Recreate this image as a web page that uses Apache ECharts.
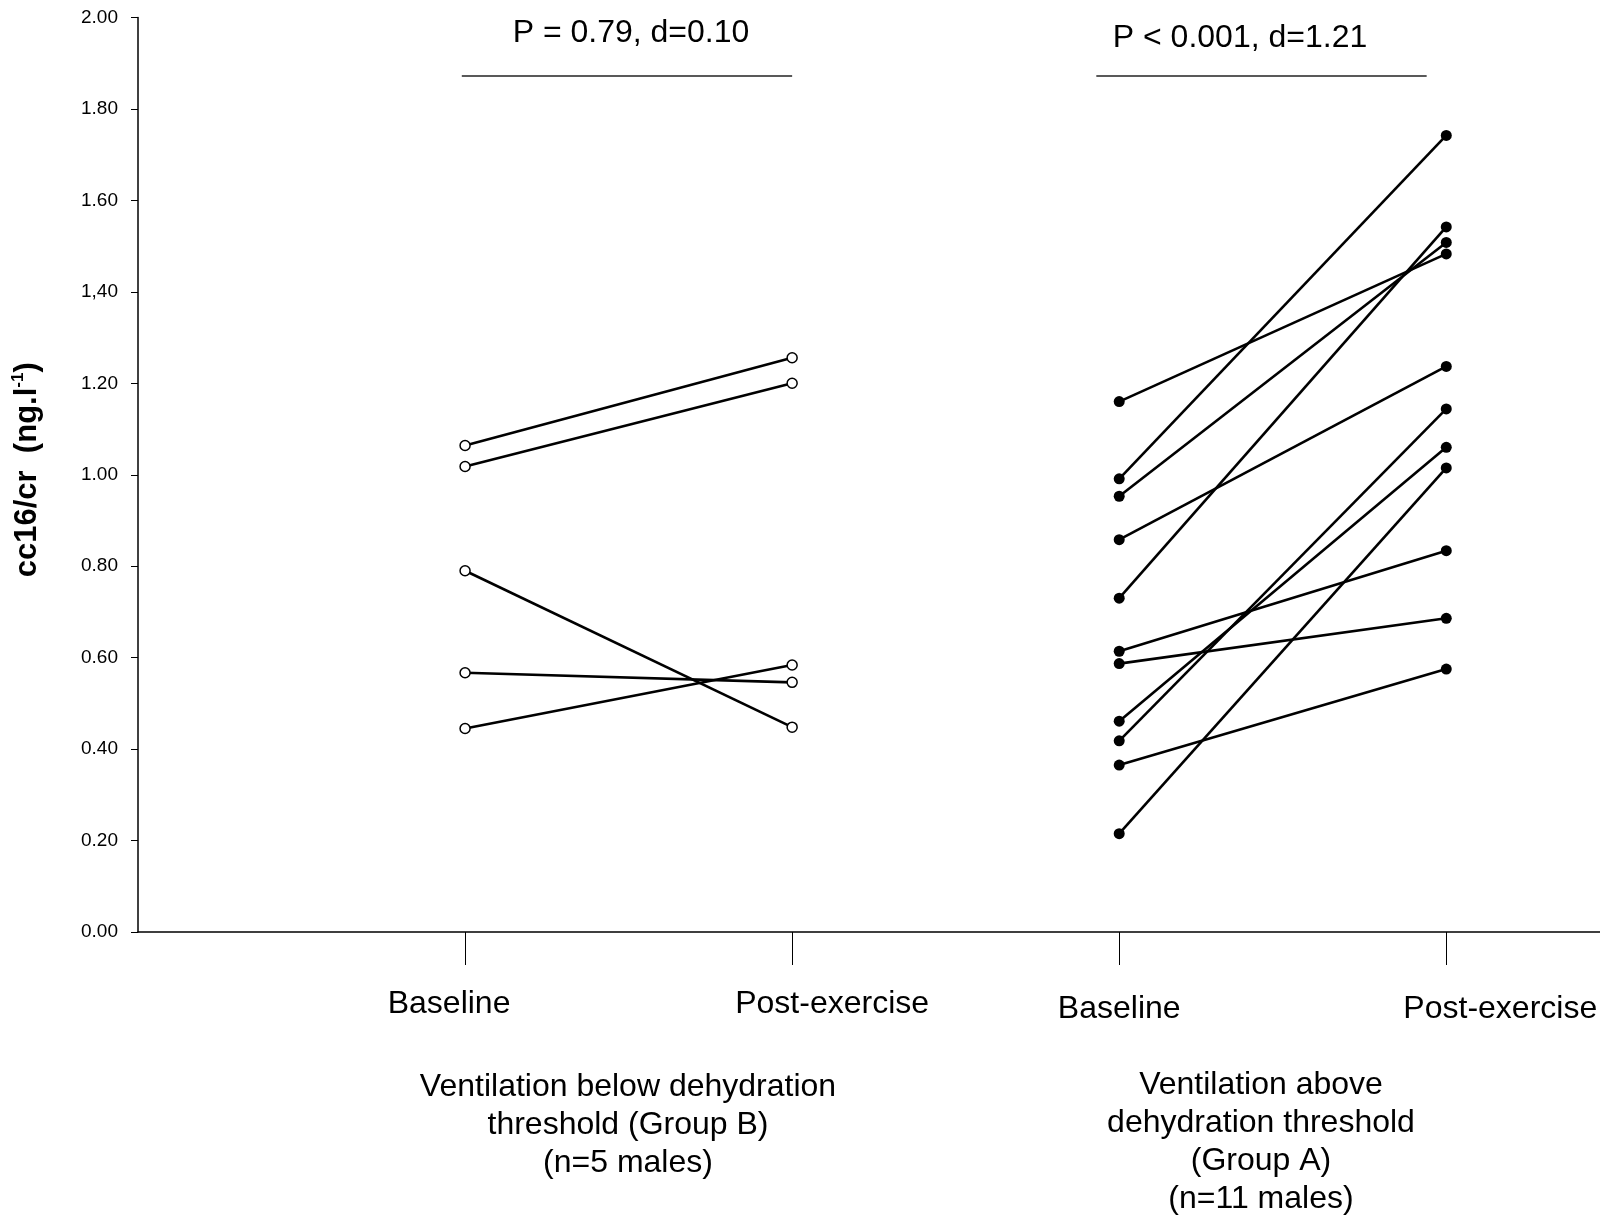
<!DOCTYPE html>
<html>
<head>
<meta charset="utf-8">
<title>cc16/cr</title>
<script src="https://cdn.jsdelivr.net/npm/echarts@6/dist/echarts.min.js"></script>
<style>
  html, body { margin: 0; padding: 0; background: #fff; }
  #chart { width: 1600px; height: 1218px; }
</style>
</head>
<body>
<div id="chart"></div>
<script>
// x positions: 1 = baseline B, 2 = post B, 3 = baseline A, 4 = post A
const timeLabels = ['Baseline', 'Post-exercise', 'Baseline', 'Post-exercise'];
const yTickLabels = ['0.00', '0.20', '0.40', '0.60', '0.80', '1.00', '1.20', '1,40', '1.60', '1.80', '2.00'];

// Group B (open circles), paired by subject
const groupBBaseline = [1.064, 1.018, 0.790, 0.567, 0.445];
const groupBPost     = [1.256, 1.200, 0.448, 0.546, 0.584];

// Group A (filled circles), paired by subject
const groupABaseline = [1.160, 0.991, 0.953, 0.858, 0.730, 0.614, 0.587, 0.461, 0.418, 0.365, 0.215];
const groupAPost     = [1.483, 1.742, 1.508, 1.237, 1.542, 0.834, 0.686, 1.060, 1.144, 0.575, 1.015];

const statLabels = ['P = 0.79, d=0.10', 'P < 0.001, d=1.21'];
const statBarLevel = 1.872;
const groupLabels = [
    'Ventilation below dehydration\nthreshold (Group B)\n(n=5 males)',
    'Ventilation above\ndehydration threshold\n(Group A)\n(n=11 males)'
];

const FONT = '"Liberation Sans", Arial, sans-serif';

document.addEventListener('DOMContentLoaded', function() {
    const chart = echarts.init(document.getElementById('chart'));

    function pairSeries(base, post, x0, hollow) {
        return base.map(function(b, i) {
            return {
                type: 'line',
                data: [[x0, b], [x0 + 1, post[i]]],
                symbol: 'circle',
                symbolSize: hollow ? 10 : 11,
                lineStyle: { color: '#000', width: 2.6 },
                itemStyle: hollow
                    ? { color: '#fff', borderColor: '#000', borderWidth: 1.5 }
                    : { color: '#000', borderColor: '#000', borderWidth: 0 },
                z: 3
            };
        });
    }

    const series = pairSeries(groupBBaseline, groupBPost, 1, true)
        .concat(pairSeries(groupABaseline, groupAPost, 3, false));

    // significance bars above each group
    series.push({
        type: 'line',
        data: [],
        markLine: {
            silent: true,
            symbol: 'none',
            label: { show: false },
            lineStyle: { color: '#222', width: 1.5, type: 'solid' },
            data: [
                [{ coord: [0.99, statBarLevel] }, { coord: [2.0, statBarLevel] }],
                [{ coord: [2.93, statBarLevel] }, { coord: [3.94, statBarLevel] }]
            ]
        }
    });

    // per-label nudges so the time labels sit where the original had them
    const labelRich = {
        t0: { fontSize: 32, color: '#000', padding: [0, 32, 0, 0] },
        t1: { fontSize: 32, color: '#000', padding: [0, 0, 0, 80] },
        t2: { fontSize: 32, color: '#000', padding: [5, 0, 0, 0] },
        t3: { fontSize: 32, color: '#000', padding: [5, 0, 0, 108] }
    };

    chart.setOption({
        animation: false,
        textStyle: { fontFamily: FONT },
        grid: { left: 138, right: 0, top: 17.5, bottom: 286, containLabel: false, outerBoundsMode: 'none' },
        xAxis: {
            type: 'value',
            min: 0,
            max: 4.47,
            splitLine: { show: false },
            axisLine: { lineStyle: { color: '#000', width: 1.5 } },
            axisTick: {
                customValues: [1, 2, 3, 4],
                length: 33,
                lineStyle: { color: '#000', width: 1 }
            },
            axisLabel: {
                customValues: [1, 2, 3, 4],
                margin: 56,
                fontFamily: FONT,
                formatter: function(v) {
                    const i = Math.round(v) - 1;
                    return '{t' + i + '|' + timeLabels[i] + '}';
                },
                rich: labelRich
            }
        },
        yAxis: {
            type: 'value',
            min: 0,
            max: 2,
            interval: 0.2,
            splitLine: { show: false },
            axisLine: { show: true, lineStyle: { color: '#000', width: 1.5 } },
            axisTick: { show: true, length: 7, lineStyle: { color: '#000', width: 1 } },
            axisLabel: {
                margin: 20,
                fontSize: 19,
                color: '#000',
                fontFamily: FONT,
                formatter: function(v) { return yTickLabels[Math.round(v / 0.2)]; }
            },
            name: '{b|cc16/cr  (ng.l}{s|-1}{b|)}',
            nameLocation: 'middle',
            nameRotate: 90,
            nameGap: 94,
            nameTextStyle: {
                padding: [0, 0, 0, 10],
                rich: {
                    b: { fontSize: 31, fontWeight: 'bold', color: '#000', fontFamily: FONT, lineHeight: 34 },
                    s: { fontSize: 17, fontWeight: 'bold', color: '#000', fontFamily: FONT, verticalAlign: 'top', lineHeight: 34 }
                }
            }
        },
        graphic: [
            { type: 'text', x: 631, y: 33, style: { text: statLabels[0], font: '32px ' + FONT, fill: '#000', textAlign: 'center', textVerticalAlign: 'middle' } },
            { type: 'text', x: 1240, y: 38, style: { text: statLabels[1], font: '32px ' + FONT, fill: '#000', textAlign: 'center', textVerticalAlign: 'middle' } },
            { type: 'text', x: 628, y: 1068, style: { text: groupLabels[0], font: '32px ' + FONT, lineHeight: 38, fill: '#000', textAlign: 'center', textVerticalAlign: 'top' } },
            { type: 'text', x: 1261, y: 1066, style: { text: groupLabels[1], font: '32px ' + FONT, lineHeight: 38, fill: '#000', textAlign: 'center', textVerticalAlign: 'top' } }
        ],
        series: series
    });

    window.addEventListener('resize', function() { chart.resize(); });
});
</script>
</body>
</html>
